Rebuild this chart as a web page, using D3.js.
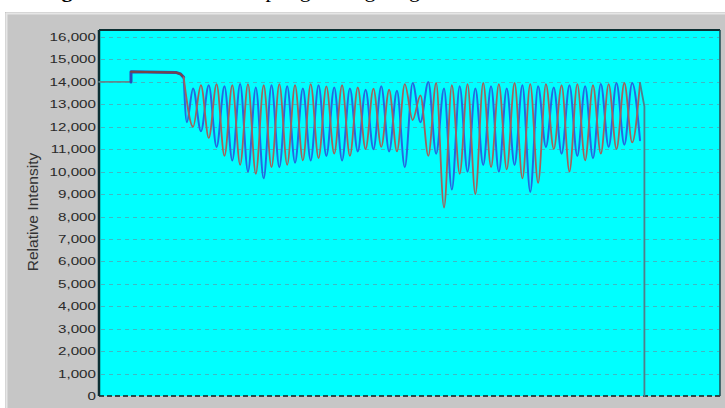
<!DOCTYPE html>
<html>
<head>
<meta charset="utf-8">
<script src="https://cdn.jsdelivr.net/npm/d3@7"></script>
<style>
  html, body { margin: 0; padding: 0; background: #ffffff; }
  svg { display: block; }
</style>
</head>
<body>
<svg id="chart" width="725" height="408"></svg>
<script>
// ---- data -------------------------------------------------------------
// y-axis ticks (relative intensity)
const yTicks = [0, 1000, 2000, 3000, 4000, 5000, 6000, 7000, 8000,
                9000, 10000, 11000, 12000, 13000, 14000, 15000, 16000];

// shared lead-in before the oscillation starts (time, intensity)
const leadT = [0, 2.04, 2.04, 4.9, 5.2, 5.4];
const leadV = [14000, 14000, 14450, 14420, 14350, 14200];

// blue channel: first dip, then alternating peaks / troughs
const bluePeakT = [6, 7, 8, 9, 10, 11, 12, 13, 14, 15, 16, 17, 18, 19, 20,
                   21, 22, 23, 24, 25, 26, 27, 28, 29, 30, 31, 32, 33, 34];
const bluePeakV = [13700, 13850, 13800, 13900, 13750, 13850, 13800, 13700, 13850, 13750,
                   13700, 13650, 13800, 13600, 13950, 14000, 13700, 13800, 13700, 13800,
                   13700, 13850, 13800, 13750, 13850, 13800, 13900, 13950, 13950];
const blueTroughT = [6.5, 7.5, 8.5, 9.5, 10.5, 11.5, 12.5, 13.5, 14.5, 15.5, 16.5, 17.5,
                     18.5, 19.5, 20.5, 21.5, 22.5, 23.5, 24.5, 25.5, 26.5, 27.5, 28.5,
                     29.5, 30.5, 31.5, 32.5, 33.5, 34.5];
const blueTroughV = [11800, 11100, 10500, 10000, 9700, 10200, 10400, 10500, 10700, 10500,
                     10900, 11000, 10900, 10200, 12200, 10800, 9200, 10000, 10300, 10000,
                     10300, 9100, 11100, 10800, 10700, 10600, 11100, 11200, 11400];
const blueFirstDip = [5.6, 12200];

// red channel: troughs fall between the blue ones
const redTroughT = [6, 7, 8, 9, 10, 11, 12, 13, 14, 15, 16, 17, 18, 19, 20,
                    21, 22, 23, 24, 25, 26, 27, 28, 29, 30, 31, 32, 33, 34];
const redTroughV = [12000, 11500, 10700, 10300, 9900, 10200, 10300, 10500, 10600, 10800,
                    10700, 11000, 11100, 10900, 12300, 10700, 8400, 9900, 9000, 10200,
                    10100, 9700, 9500, 11000, 10000, 10500, 10800, 11000, 11300];
const redPeakT = [6.5, 7.5, 8.5, 9.5, 10.5, 11.5, 12.5, 13.5, 14.5, 15.5, 16.5, 17.5,
                  18.5, 19.5, 20.5, 21.5, 22.5, 23.5, 24.5, 25.5, 26.5, 27.5, 28.5,
                  29.5, 30.5, 31.5, 32.5, 33.5, 34.5];
const redPeakV = [13850, 13900, 13850, 13900, 13850, 13900, 13850, 13900, 13800, 13850,
                  13750, 13700, 13650, 13900, 13400, 13950, 13850, 13900, 13950, 13900,
                  13950, 13900, 13900, 13850, 13900, 13850, 13900, 13950, 13950];
// end of acquisition: last reading, then the trace falls to zero
const endT = [34.78, 34.78];
const endV = [12900, 0];

// ---- layout -----------------------------------------------------------
const svg = d3.select("#chart");
const plot = { left: 99, right: 720, top: 30, bottom: 396 };

const x = d3.scaleLinear().domain([0, 39.6]).range([plot.left, plot.right]);
const y = d3.scaleLinear().domain([0, 16000]).range([plot.bottom, 37]);

// caption line above the panel (runs off the top of the page)
const cap = svg.append("text")
  .attr("y", -3)
  .attr("font-family", "'Liberation Serif', 'Times New Roman', serif")
  .attr("font-size", 22)
  .attr("fill", "#000");
cap.append("tspan").attr("x", 42).attr("font-weight", "bold").text("Figure 5.");
cap.append("tspan").text(" Trace of the");
cap.append("tspan").attr("x", 230).text("sampling");
cap.append("tspan").attr("x", 318).text("during");
cap.append("tspan").attr("x", 381).text("long-term test");

// grey panel behind the chart
svg.append("rect")
  .attr("x", 5).attr("y", 12).attr("width", 720).attr("height", 396)
  .attr("fill", "#c6c6c6");
svg.append("line").attr("x1", 6.5).attr("x2", 6.5).attr("y1", 13).attr("y2", 408)
  .attr("stroke", "#e6e6e6").attr("stroke-width", 2);
svg.append("line").attr("x1", 6).attr("x2", 725).attr("y1", 13.5).attr("y2", 13.5)
  .attr("stroke", "#e6e6e6").attr("stroke-width", 2);

// plot area
svg.append("rect")
  .attr("x", plot.left).attr("y", plot.top)
  .attr("width", plot.right - plot.left).attr("height", plot.bottom - plot.top)
  .attr("fill", "#00ffff");

// dashed horizontal grid
svg.append("g").selectAll("line")
  .data(yTicks.filter(v => v > 0))
  .join("line")
  .attr("x1", plot.left + 2).attr("x2", plot.right - 1)
  .attr("y1", d => Math.round(y(d)) + 0.5).attr("y2", d => Math.round(y(d)) + 0.5)
  .attr("stroke", "#3fb8c4").attr("stroke-width", 1)
  .attr("stroke-dasharray", "4,4");

// baseline at zero
svg.append("line")
  .attr("x1", plot.left).attr("x2", plot.right)
  .attr("y1", y(0)).attr("y2", y(0))
  .attr("stroke", "#1a1a1a").attr("stroke-width", 1.5)
  .attr("stroke-dasharray", "5,3");

// frame
svg.append("line").attr("x1", plot.left).attr("x2", plot.left)
  .attr("y1", plot.top).attr("y2", plot.bottom)
  .attr("stroke", "#0d2f33").attr("stroke-width", 2.5);
svg.append("line").attr("x1", plot.left).attr("x2", plot.right)
  .attr("y1", plot.top).attr("y2", plot.top)
  .attr("stroke", "#0d2f33").attr("stroke-width", 2);
svg.append("line").attr("x1", plot.right).attr("x2", plot.right)
  .attr("y1", plot.top).attr("y2", plot.bottom)
  .attr("stroke", "#1c4a50").attr("stroke-width", 1.5);

// y tick labels (wide sans face)
svg.append("g").selectAll("text")
  .data(yTicks)
  .join("text")
  .attr("transform", d => `translate(96,${y(d) + 4}) scale(1.38,1)`)
  .attr("text-anchor", "end")
  .attr("font-family", "Arial, 'Liberation Sans', sans-serif")
  .attr("font-size", 11)
  .attr("fill", "#2a2a2a")
  .text(d => d3.format(",")(d));

// y axis title
svg.append("text")
  .attr("transform", `translate(38,212) rotate(-90) scale(1.3,1.2)`)
  .attr("text-anchor", "middle")
  .attr("font-family", "Arial, 'Liberation Sans', sans-serif")
  .attr("font-size", 12)
  .attr("fill", "#333")
  .text("Relative Intensity");

// ---- traces -----------------------------------------------------------
const zip = (ts, vs) => ts.map((t, i) => [t, vs[i]]);
const lead = zip(leadT, leadV);

function oscillation(first, peaksT, peaksV, troughsT, troughsV) {
  const pts = first.concat(zip(peaksT, peaksV), zip(troughsT, troughsV));
  return pts.sort((a, b) => a[0] - b[0]);
}

const bluePts = oscillation([lead[lead.length - 1], blueFirstDip],
  bluePeakT, bluePeakV, blueTroughT, blueTroughV);
const redPts = oscillation([lead[lead.length - 1]],
  redPeakT, redPeakV, redTroughT, redTroughV);
const redTail = [redPts[redPts.length - 1]].concat(zip(endT, endV));

const straight = d3.line().x(d => x(d[0])).y(d => y(d[1]));
const smooth = d3.line().x(d => x(d[0])).y(d => y(d[1])).curve(d3.curveMonotoneX);

const traces = svg.append("g").attr("fill", "none")
  .attr("stroke-linejoin", "round").attr("stroke-linecap", "round");

// lead-in (both channels overlap here)
traces.append("path").attr("d", straight(lead.slice(0, 2)))
  .attr("stroke", "#5f8a8e").attr("stroke-width", 1.6);
traces.append("path").attr("d", straight(lead.slice(1)))
  .attr("stroke", "#2a4fb8").attr("stroke-width", 3);
traces.append("path").attr("d", straight(lead.slice(2)))
  .attr("stroke", "#7a4546").attr("stroke-width", 2);

// blue channel
traces.append("path").attr("d", smooth(bluePts))
  .attr("stroke", "#2468e0").attr("stroke-width", 2);

// red channel
traces.append("path").attr("d", smooth(redPts))
  .attr("stroke", "#a0625c").attr("stroke-width", 1.8);
traces.append("path").attr("d", straight(redTail))
  .attr("stroke", "#4f7f8c").attr("stroke-width", 1.8);
</script>
</body>
</html>
